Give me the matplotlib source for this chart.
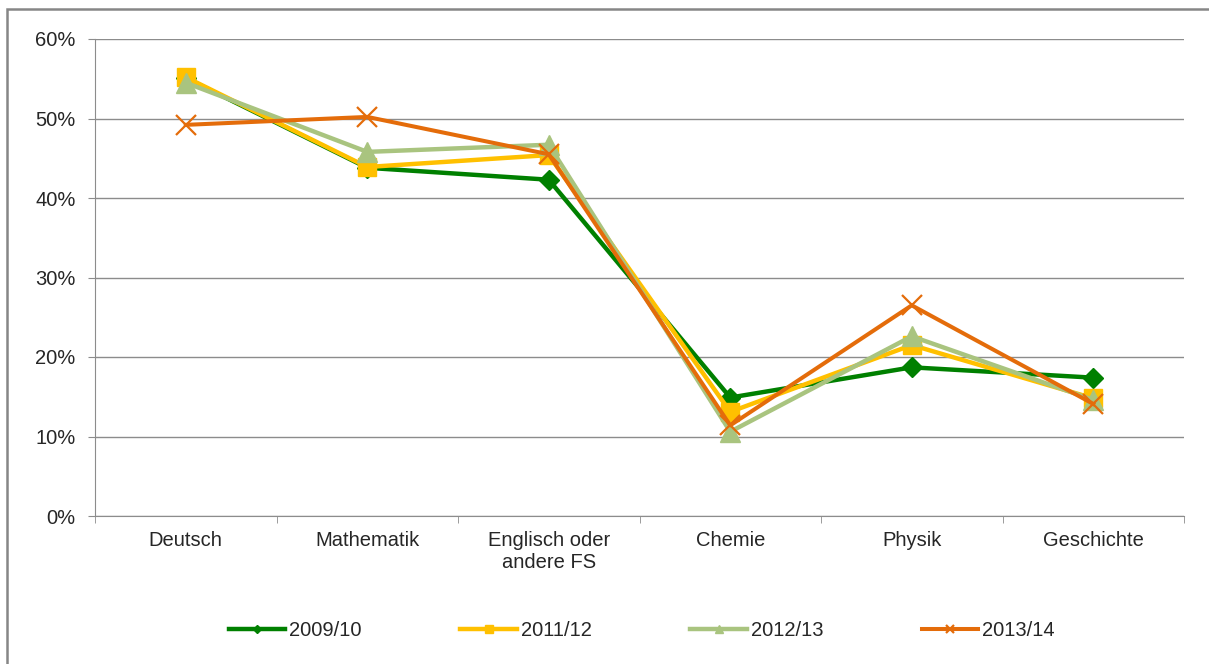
import matplotlib.pyplot as plt
from matplotlib.patches import Rectangle
from matplotlib.ticker import PercentFormatter
import numpy as np

plt.rcParams['font.family'] = ['Liberation Sans', 'DejaVu Sans']

subjects = ['Deutsch', 'Mathematik', 'Englisch oder\nandere FS', 'Chemie', 'Physik', 'Geschichte']
years = ['2009/10', '2011/12', '2012/13', '2013/14']

# values in percent
v_2009 = [55.1, 43.8, 42.3, 14.9, 18.7, 17.4]
v_2011 = [55.2, 43.9, 45.4, 13.1, 21.5, 14.8]
v_2012 = [54.5, 45.8, 46.7, 10.6, 22.6, 14.6]
v_2013 = [49.2, 50.2, 45.5, 11.4, 26.5, 14.1]

colors = ['#008000', '#FFC000', '#A9C47F', '#E46C0A']
markers = ['D', 's', '^', 'x']
fs = 14.5

fig = plt.figure(figsize=(12.09, 6.64), dpi=100)
ax = fig.add_axes([95 / 1209, 1 - 516 / 664, 1089 / 1209, 477 / 664])

x = np.arange(len(subjects))
series = [v_2009, v_2011, v_2012, v_2013]
msizes = [10, 13, 14, 14]
lws = [3.2, 3.2, 3.2, 2.9]
for vals, name, c, m, ms, lw in zip(series, years, colors, markers, msizes, lws):
    if m == 'x':
        ax.plot(x, vals, color=c, lw=lw, marker=m, ms=ms, mew=1.6, label=name)
    else:
        ax.plot(x, vals, color=c, lw=lw, marker=m, ms=ms, mec=c, label=name)

ax.set_xlim(-0.5, len(subjects) - 0.5)
ax.set_ylim(0, 60)
ax.set_yticks(np.arange(0, 61, 10))
ax.yaxis.set_major_formatter(PercentFormatter(decimals=0))
ax.grid(axis='y', color='#8c8c8c', lw=1)
ax.set_axisbelow(True)

ax.set_xticks(x)
ax.set_xticklabels(subjects, fontsize=fs, color='#262626')
ax.set_xticks(np.arange(-0.5, len(subjects)), minor=True)
ax.tick_params(axis='x', which='major', length=0, pad=11)
ax.tick_params(axis='x', which='minor', length=5, color='#8c8c8c', direction='out')
ax.tick_params(axis='y', length=5, color='#8c8c8c', labelsize=fs, labelcolor='#262626', pad=9)

for s in ['top', 'right']:
    ax.spines[s].set_visible(False)
for s in ['left', 'bottom']:
    ax.spines[s].set_color('#8c8c8c')

leg = fig.legend(loc='center', bbox_to_anchor=(0.531, 0.051), ncol=4, frameon=False,
                 fontsize=fs, handlelength=2.8, handletextpad=0.2, columnspacing=4.9,
                 markerscale=0.4)
for t in leg.get_texts():
    t.set_color('#262626')

# outer chart frame
fig.add_artist(Rectangle((7 / 1209, -0.1), 1.2, 1 - 9 / 664 + 0.1, transform=fig.transFigure,
                         fill=False, ec='#868686', lw=1.8))

fig.savefig('out.png', dpi=100)
